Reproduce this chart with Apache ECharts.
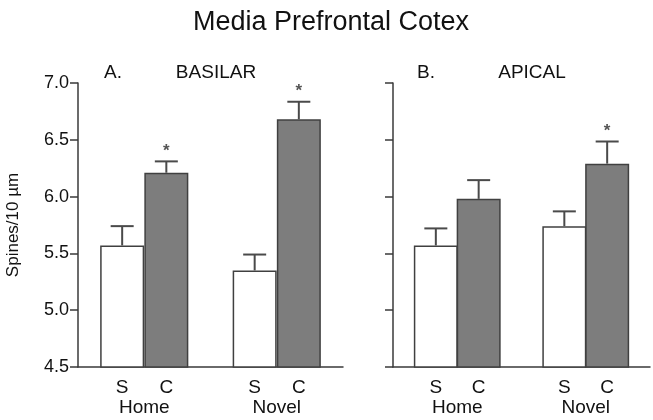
<!DOCTYPE html>
<html>
<head>
<meta charset="utf-8">
<script src="https://cdn.jsdelivr.net/npm/echarts@6/dist/echarts.min.js"></script>
<style>html,body{margin:0;padding:0;background:#fff}#c{width:653px;height:420px}</style>
</head>
<body>
<div id="c"></div>
<script>
const categories = ['', 'S', 'C', '', 'S', 'C', ''];
const groups = ['', 'Home', '', '', 'Novel', ''];
const basilarS = [null, 5.57, null, null, 5.35, null, null];
const basilarC = [null, null, 6.21, null, null, 6.68, null];
const basilarErr = [null, 0.17, 0.10, null, 0.14, 0.155, null];
const basilarSig = [0, 0, 1, 0, 0, 1, 0];
const apicalS = [null, 5.57, null, null, 5.74, null, null];
const apicalC = [null, null, 5.98, null, null, 6.29, null];
const apicalErr = [null, 0.15, 0.165, null, 0.13, 0.195, null];
const apicalSig = [0, 0, 0, 0, 0, 1, 0];
const yMin = 4.5, yMax = 7.0, yStep = 0.5;

const FONT = 'Liberation Sans, Arial, Helvetica, sans-serif';
const INK = '#111';
const AX = '#3a3a3a';

function errData(s, c, e, sig) {
  const out = [];
  for (let i = 0; i < categories.length; i++) {
    const m = s[i] != null ? s[i] : c[i];
    if (m == null) continue;
    out.push([i, m, m + e[i], sig[i]]);
  }
  return out;
}

function renderErr(params, api) {
  const x = api.value(0);
  const base = api.coord([x, api.value(1)]);
  const top = api.coord([x, api.value(2)]);
  const half = 11.5;
  const style = { stroke: '#4a4a4a', lineWidth: 2 };
  const children = [
    { type: 'line', shape: { x1: base[0], y1: base[1], x2: top[0], y2: top[1] }, style },
    { type: 'line', shape: { x1: top[0] - half, y1: top[1], x2: top[0] + half, y2: top[1] }, style }
  ];
  if (api.value(3)) {
    children.push({ type: 'text', style: { text: '*', x: top[0], y: top[1] - 10, textAlign: 'center', textVerticalAlign: 'middle', fill: '#555', font: 'bold 17px ' + FONT } });
  }
  return { type: 'group', children };
}

function xAxes(gi) {
  return [
    {
      type: 'category', gridIndex: gi, data: categories, boundaryGap: false,
      axisLine: { lineStyle: { color: AX, width: 1.5 } },
      axisTick: { show: false },
      axisLabel: { color: INK, fontSize: 19, fontFamily: FONT, margin: 11, interval: 0 }
    },
    {
      type: 'category', gridIndex: gi, data: groups, boundaryGap: true, position: 'bottom', offset: 20,
      axisLine: { show: false }, axisTick: { show: false },
      axisLabel: { color: INK, fontSize: 19, fontFamily: FONT, margin: 11, interval: 0 }
    }
  ];
}

function yAxis(gi, labels) {
  return {
    type: 'value', gridIndex: gi, min: yMin, max: yMax, interval: yStep,
    name: labels ? 'Spines/10 µm' : '', nameLocation: 'middle', nameGap: 56,
    nameTextStyle: { color: INK, fontSize: 17, fontFamily: FONT },
    axisLine: { show: true, lineStyle: { color: AX, width: 1.5 } },
    axisTick: { show: true, inside: false, length: 8, lineStyle: { color: AX, width: 1.5 } },
    axisLabel: { show: labels, color: INK, fontSize: 18, fontFamily: FONT, margin: 9, formatter: v => v.toFixed(1) },
    splitLine: { show: false }
  };
}

function bars(xi, yi, s, c) {
  const common = { type: 'bar', xAxisIndex: xi, yAxisIndex: yi, barWidth: 44, barGap: '-100%', silent: true };
  return [
    Object.assign({}, common, { data: s, itemStyle: { color: '#ffffff', borderColor: '#404040', borderWidth: 1.5 } }),
    Object.assign({}, common, { data: c, itemStyle: { color: '#7d7d7d', borderColor: '#404040', borderWidth: 1.5 } })
  ];
}

const chart = echarts.init(document.getElementById('c'), null, { renderer: 'canvas' });
chart.setOption({
  animation: false,
  backgroundColor: '#fff',
  grid: [
    { left: 78, top: 83, width: 265, bottom: 53 },
    { left: 393, top: 83, width: 265, bottom: 53 }
  ],
  xAxis: [...xAxes(0), ...xAxes(1)],
  yAxis: [yAxis(0, true), yAxis(1, false)],
  graphic: [
    { type: 'text', style: { text: 'Media Prefrontal Cotex', x: 331, y: 23, textAlign: 'center', textVerticalAlign: 'middle', fill: INK, font: '27px ' + FONT } },
    { type: 'text', style: { text: 'A.', x: 113, y: 73, textAlign: 'center', textVerticalAlign: 'middle', fill: INK, font: '19px ' + FONT } },
    { type: 'text', style: { text: 'BASILAR', x: 216, y: 73, textAlign: 'center', textVerticalAlign: 'middle', fill: INK, font: '19px ' + FONT } },
    { type: 'text', style: { text: 'B.', x: 426, y: 73, textAlign: 'center', textVerticalAlign: 'middle', fill: INK, font: '19px ' + FONT } },
    { type: 'text', style: { text: 'APICAL', x: 532, y: 73, textAlign: 'center', textVerticalAlign: 'middle', fill: INK, font: '19px ' + FONT } }
  ],
  series: [
    ...bars(0, 0, basilarS, basilarC),
    ...bars(2, 1, apicalS, apicalC),
    { type: 'custom', xAxisIndex: 0, yAxisIndex: 0, renderItem: renderErr, data: errData(basilarS, basilarC, basilarErr, basilarSig), z: 5 },
    { type: 'custom', xAxisIndex: 2, yAxisIndex: 1, renderItem: renderErr, data: errData(apicalS, apicalC, apicalErr, apicalSig), z: 5 }
  ]
});
</script>
</body>
</html>
